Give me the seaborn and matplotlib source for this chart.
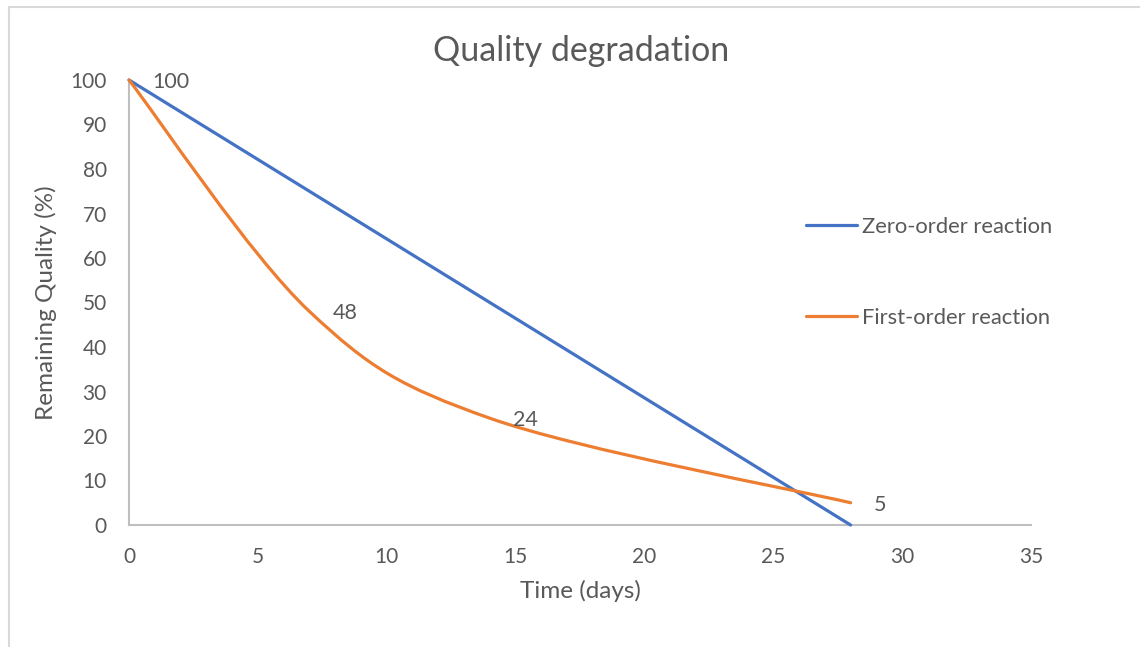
import numpy as np
import pandas as pd
import matplotlib
matplotlib.use("Agg")
import matplotlib.pyplot as plt
from matplotlib.path import Path
from matplotlib.patches import PathPatch
from matplotlib.lines import Line2D
import seaborn as sns

# ---- data ----
zero_days = [0, 28]
zero_quality = [100, 0]
first_days = [0, 7, 14, 28]
first_quality = [100, 48, 24, 5]
first_labels = ["100", "48", "24", "5"]
series_names = ["Zero-order reaction", "First-order reaction"]
x_ticks = [0, 5, 10, 15, 20, 25, 30, 35]
y_ticks = [0, 10, 20, 30, 40, 50, 60, 70, 80, 90, 100]

BLUE = "#4472C4"
ORANGE = "#ED7D31"
TXT = "#595959"
GRID = "#BFBFBF"

sns.set_theme(style="white")
plt.rcParams["font.family"] = ["Lato", "DejaVu Sans"]

fig = plt.figure(figsize=(11.4, 6.47), dpi=100)
ax = fig.add_axes([129/1140, 1-525/647, (1031-129)/1140, (525-80)/647])

zero_df = pd.DataFrame({"Time": zero_days, "Quality": zero_quality})
sns.lineplot(data=zero_df, x="Time", y="Quality", ax=ax, color=BLUE,
             linewidth=2.3, solid_capstyle="round", clip_on=False, zorder=3)

# smoothed first-order curve (Excel-style bezier through the data points)
pts = np.column_stack([first_days, first_quality]).astype(float)
n = len(pts)
verts = [tuple(pts[0])]
codes = [Path.MOVETO]
for i in range(n - 1):
    p0 = pts[i - 1] if i > 0 else pts[i]
    p1 = pts[i]
    p2 = pts[i + 1]
    p3 = pts[i + 2] if i + 2 < n else pts[i + 1]
    c1 = p1 + (p2 - p0) / 6.0
    c2 = p2 - (p3 - p1) / 6.0
    verts += [tuple(c1), tuple(c2), tuple(p2)]
    codes += [Path.CURVE4] * 3
patch = PathPatch(Path(verts, codes), facecolor="none", edgecolor=ORANGE,
                  linewidth=2.3, capstyle="round", clip_on=False, zorder=3)
ax.add_patch(patch)

for xd, yd, lab in zip(first_days, first_quality, first_labels):
    ax.annotate(lab, (xd, yd), xytext=(16.5, -1.5), textcoords="offset points",
                ha="left", va="center", fontsize=15.5, color=TXT)

ax.set_xlim(0, 35)
ax.set_ylim(0, 100)
ax.set_xticks(x_ticks)
ax.set_yticks(y_ticks)
ax.tick_params(axis="both", length=0, labelsize=15, colors=TXT)
ax.tick_params(axis="x", pad=16)
ax.tick_params(axis="y", pad=16)
for s in ["top", "right"]:
    ax.spines[s].set_visible(False)
for s in ["left", "bottom"]:
    ax.spines[s].set_color(GRID)
    ax.spines[s].set_linewidth(1.5)
ax.grid(False)
ax.set_xlabel("Time (days)", fontsize=17.5, color=TXT, labelpad=9)
ax.set_ylabel("Remaining Quality (%)", fontsize=17.5, color=TXT, labelpad=10)

fig.text(581/1140, 1-51/647, "Quality degradation", ha="center", va="center",
         fontsize=24.5, color=TXT)

# legend
for yy, col, name in [(225, BLUE, series_names[0]), (316, ORANGE, series_names[1])]:
    fig.add_artist(Line2D([806/1140, 857/1140], [1-yy/647, 1-yy/647], color=col,
                          linewidth=2.3, solid_capstyle="round"))
    fig.text(862/1140, 1-(yy+2)/647, name, ha="left", va="center", fontsize=15.8, color=TXT)

# chart border
fig.add_artist(Line2D([9/1140, 1], [1-7/647, 1-7/647], color="#D9D9D9", linewidth=1.5))
fig.add_artist(Line2D([9/1140, 9/1140], [0, 1-7/647], color="#D9D9D9", linewidth=1.5))

fig.savefig("out.png", dpi=100, facecolor="white")
